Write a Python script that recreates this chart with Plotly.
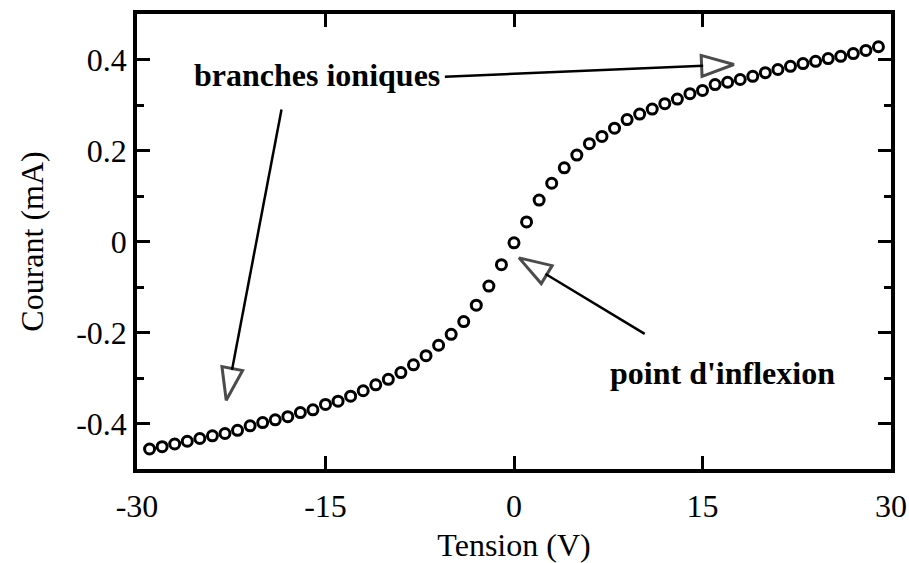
import plotly.graph_objects as go

# Current-voltage characteristic, one reading per volt
tension = list(range(-29, 30))
courant = [
    -0.456, -0.451, -0.445, -0.439, -0.433, -0.427, -0.422, -0.415, -0.405, -0.398,
    -0.392, -0.385, -0.376, -0.370, -0.358, -0.351, -0.340, -0.328, -0.315, -0.303,
    -0.288, -0.271, -0.251, -0.228, -0.204, -0.176, -0.140, -0.098, -0.051, -0.003,
    0.043, 0.091, 0.128, 0.162, 0.190, 0.215, 0.231, 0.249, 0.268, 0.280,
    0.291, 0.303, 0.313, 0.325, 0.332, 0.345, 0.350, 0.356, 0.363, 0.371,
    0.378, 0.385, 0.391, 0.396, 0.402, 0.407, 0.413, 0.420, 0.428,
]

x_ticks = [-30, -15, 0, 15, 30]
x_tick_text = ["-30", "-15", "0", "15", "30"]
y_ticks = [-0.4, -0.2, 0, 0.2, 0.4]
y_tick_text = ["-0.4", "-0.2", "0", "0.2", "0.4"]

# Annotation arrows: (tail, tip) in data units
arrows = [
    ((-18.5, 0.290), (-22.9, -0.349)),
    ((-5.5, 0.362), (17.5, 0.389)),
    ((10.4, -0.203), (0.4, -0.036)),
]
labels = [
    ("branches ioniques", -15.7, 0.366),
    ("point d'inflexion", 16.6, -0.289),
]

SERIF = "Liberation Serif, Times New Roman, serif"
FS = 32

fig = go.Figure()

fig.add_trace(go.Scatter(
    x=tension, y=courant, mode="markers",
    marker=dict(symbol="circle-open", size=10, color="black",
                line=dict(width=3, color="black")),
    showlegend=False, hoverinfo="skip", cliponaxis=False,
))

for (x0, y0), (x1, y1) in arrows:
    fig.add_trace(go.Scatter(
        x=[x0, x1], y=[y0, y1], mode="lines+markers",
        line=dict(color="black", width=2.5),
        marker=dict(symbol=["circle", "arrow"], size=[0, 34],
                    angleref="previous", color="white",
                    line=dict(color="black", width=3)),
        showlegend=False, hoverinfo="skip",
    ))

for text, x, y in labels:
    fig.add_annotation(x=x, y=y, text=f"<b>{text}</b>", showarrow=False,
                       font=dict(family=SERIF, size=FS, color="black"))

axis_common = dict(
    showline=True, linewidth=3.5, linecolor="black", mirror="ticks",
    ticks="inside", ticklen=13, tickwidth=2.5, tickcolor="black",
    showgrid=False, zeroline=False,
    tickfont=dict(family=SERIF, size=FS, color="black"),
)

fig.update_layout(
    width=909, height=563,
    margin=dict(l=137, r=18, t=14, b=94),
    paper_bgcolor="white", plot_bgcolor="white",
    xaxis=dict(range=[-30, 30], tickvals=x_ticks, ticktext=x_tick_text,
               ticklabelstandoff=6, automargin=False,
               title=dict(text="Tension (V)", font=dict(family=SERIF, size=FS, color="black")),
               **axis_common),
    yaxis=dict(range=[-0.5, 0.5], tickvals=y_ticks, ticktext=y_tick_text,
               ticklabelstandoff=0, automargin=True,
               minor=dict(dtick=0.1, tick0=0, ticks="inside", ticklen=7, tickwidth=2.5,
                          tickcolor="black", showgrid=False),
               title=dict(text="Courant (mA)", font=dict(family=SERIF, size=FS, color="black"),
                          standoff=24),
               **axis_common),
)

fig.write_html("out.html")
